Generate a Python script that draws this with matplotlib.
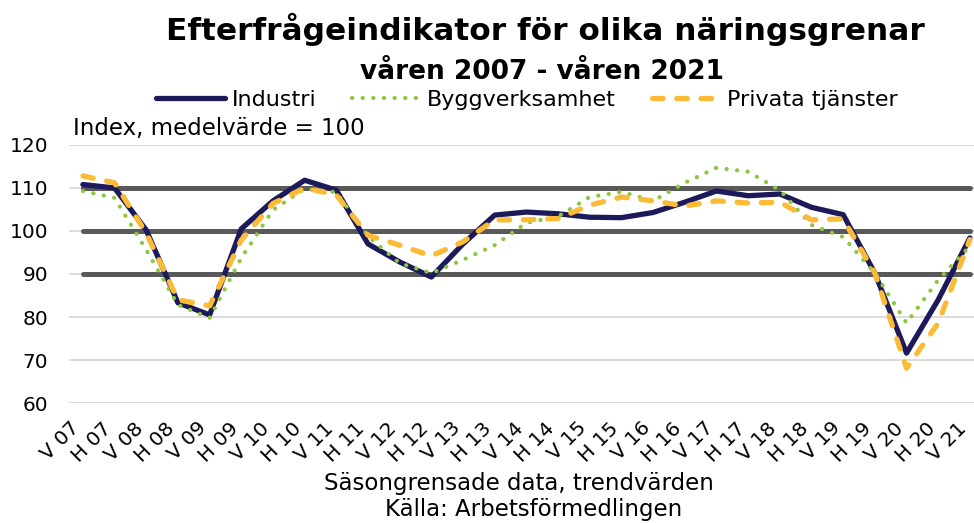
import matplotlib
matplotlib.use("Agg")
import matplotlib.pyplot as plt
import matplotlib.transforms as mtransforms

plt.rcParams["font.family"] = ["DejaVu Sans"]

periods = ["V 07", "H 07", "V 08", "H 08", "V 09", "H 09", "V 10", "H 10",
           "V 11", "H 11", "V 12", "H 12", "V 13", "H 13", "V 14", "H 14",
           "V 15", "H 15", "V 16", "H 16", "V 17", "H 17", "V 18", "H 18",
           "V 19", "H 19", "V 20", "H 20", "V 21"]

industri = [110.8, 110.0, 100.2, 83.3, 80.5, 100.5, 107.0, 111.8,
            109.5, 97.0, 92.8, 89.3, 97.0, 103.7, 104.4, 104.0,
            103.2, 103.1, 104.3, 106.7, 109.3, 108.2, 108.6, 105.5,
            103.8, 90.2, 71.6, 84.0, 98.4]
bygg = [109.3, 107.7, 95.6, 82.8, 79.8, 93.7, 104.9, 109.8,
        109.0, 98.8, 92.5, 90.2, 93.3, 96.7, 101.9, 103.4,
        107.9, 109.1, 107.0, 111.2, 114.7, 113.8, 109.5, 101.4,
        98.6, 90.2, 78.6, 88.6, 96.5]
privata = [112.8, 111.2, 99.5, 84.0, 82.6, 97.9, 106.4, 110.0,
           108.4, 99.0, 96.7, 94.2, 97.5, 102.6, 102.6, 102.9,
           106.0, 107.9, 107.0, 105.8, 107.0, 106.5, 106.7, 102.6,
           102.8, 90.2, 68.1, 78.6, 98.0]
ref_levels = [90, 100, 110]
yticks = [60, 70, 80, 90, 100, 110, 120]

x = list(range(len(periods)))

fig = plt.figure(figsize=(9.74, 5.23), dpi=100)
ax = fig.add_axes([0.0708, 0.2294, 0.9292, 0.4934])

for y in yticks:
    ax.axhline(y, color="#d9d9d9", lw=1.3, zorder=0)
ref = ax.hlines(ref_levels, 0, len(periods) - 1, color="#595959", lw=3.6, zorder=1)
ref.set_capstyle("round")

ax.plot(x, industri, color="#1c1a5b", lw=3.8, label="Industri",
        solid_capstyle="round", solid_joinstyle="round", zorder=3)
ax.plot(x, bygg, color="#8dc63f", lw=3.0, linestyle=(0, (0.05, 2.5)),
        dash_capstyle="round", label="Byggverksamhet", zorder=4)
ax.plot(x, privata, color="#fbbb37", lw=3.8, linestyle=(0, (2.0, 2.6)),
        dash_capstyle="round", label="Privata tjänster", zorder=5)

ax.set_xlim(-0.44, len(periods) - 1 + 0.13)
ax.set_ylim(60, 120)
ax.set_yticks(yticks)
ax.set_xticks(x)
ax.set_xticklabels(periods, rotation=45, ha="right", va="center",
                   rotation_mode="anchor")
ax.tick_params(axis="both", length=0, labelsize=14.5, colors="black")
ax.tick_params(axis="y", pad=15)
ax.tick_params(axis="x", pad=16)
for s in ax.spines.values():
    s.set_visible(False)

fig.text(0.56, 0.943, "Efterfrågeindikator för olika näringsgrenar",
         ha="center", va="center", fontsize=22.5, fontweight="bold")
fig.text(0.556, 0.862, "våren 2007 - våren 2021",
         ha="center", va="center", fontsize=19, fontweight="bold")
fig.text(0.075, 0.755, "Index, medelvärde = 100", ha="left", va="center",
         fontsize=16.5)
fig.text(0.533, 0.076, "Säsongrensade data, trendvärden", ha="center",
         va="center", fontsize=16.5)
fig.text(0.548, 0.025, "Källa: Arbetsförmedlingen", ha="center",
         va="center", fontsize=16.5)

fig.legend(loc="center", bbox_to_anchor=(0.541, 0.809), ncol=3, frameon=False,
           fontsize=16, handlelength=3.1, handletextpad=0.3,
           columnspacing=1.6, borderpad=0)

# draw once so the tick objects exist, then pull labels a little left
# so the last one stays inside the figure
fig.canvas.draw()
shift = mtransforms.ScaledTranslation(-6 / 100, 0, fig.dpi_scale_trans)
for tick in ax.xaxis.get_major_ticks():
    tick.label1.set_transform(tick.label1.get_transform() + shift)

fig.savefig("out.png", dpi=100)
